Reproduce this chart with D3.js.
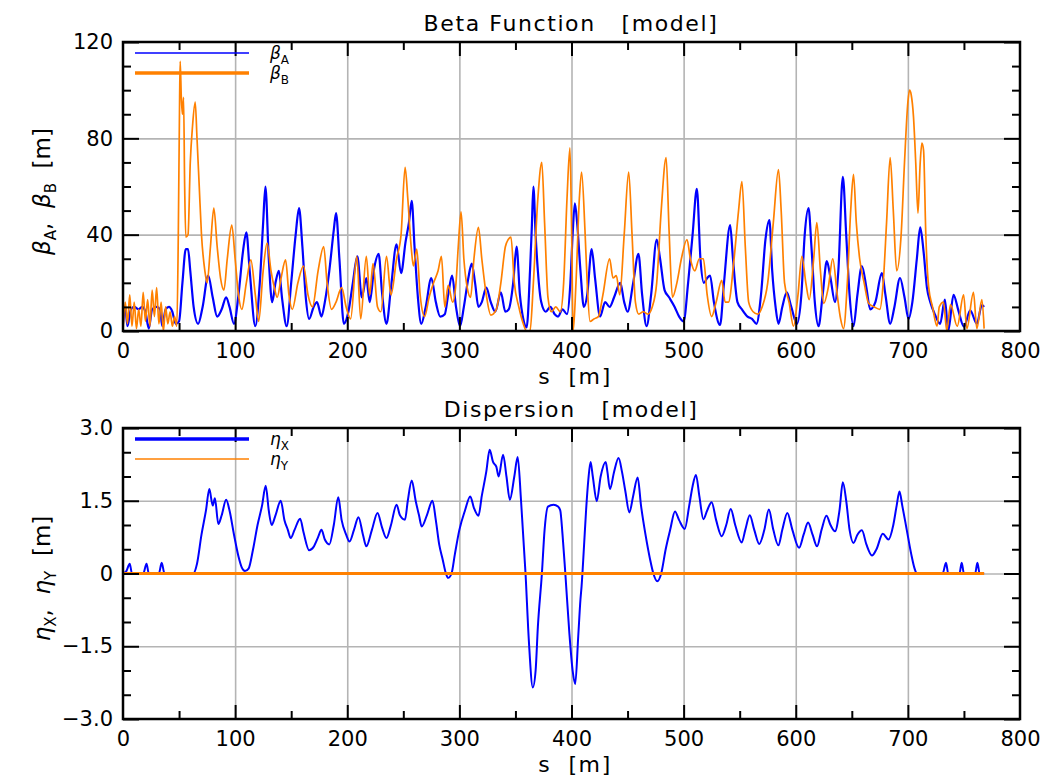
<!DOCTYPE html>
<html>
<head>
<meta charset="utf-8">
<script src="https://cdn.jsdelivr.net/npm/d3@7"></script>
<style>
body{margin:0;background:#fff;}
text{font-family:"DejaVu Sans",sans-serif;fill:#000;}
</style>
</head>
<body>
<div class="chart"></div>
<script>
// values, [s (m), value]
const betaA = [[0,3],[2,10],[4,2],[7,9],[10,10],[14,9],[17,10],[20,8],[23,1],[26,9],[30,10],[33,9],[35,2],[38,9],[41,10],[44,8],[47,3],[50,4],[53,20],[56,34],[58,34],[60,25],[63,10],[67,3],[71,10],[76,23],[80,14],[84,6],[88,9],[92,14],[95,10],[99,3],[103,15],[107,33],[110,41],[113,25],[118,2],[122,20],[125,45],[127,60],[130,30],[133,12],[136,20],[139,25],[142,13],[146,2],[150,20],[154,40],[157,51],[160,35],[163,14],[166,5],[170,10],[173,12],[177,6],[180,12],[184,25],[188,42],[190,49],[193,30],[197,3],[201,8],[205,20],[209,31],[213,14],[217,22],[220,12],[224,26],[228,32],[231,16],[235,3],[239,18],[244,36],[248,24],[252,37],[255,45],[257.5,54],[260,35],[263,14],[266,3],[270,10],[275,22],[279,12],[283,6],[287,7],[290,15],[293.5,23],[297,10],[300.6,2],[304,10],[308,22],[311,28],[314,20],[317,10],[320,12],[324,18],[328,12],[332,8],[337,16],[341,8],[344,9],[348,20],[351,35],[354,15],[357,5],[360,1.5],[363,25],[364.6,43],[366,60],[368,40],[370,25],[373,12],[377,8],[381,10],[385,7],[388,6],[392,9],[396,7],[399,20],[401,40],[403,53],[405,45],[408,25],[411,10],[414,15],[418,34],[421,22],[425.5,6],[430,12],[434,10],[438,14],[443.5,20],[447,12],[450,8],[455,20],[459.7,32],[463,15],[467,2],[471,15],[476,38],[479,30],[483,17],[487,14],[492,10],[496,6],[500,4],[504,20],[508,40],[511.8,59],[515,30],[518,20],[521,22],[523.6,23],[527,12],[532.5,2.5],[536,20],[541.5,44],[544,30],[548,12],[552,9],[557,6],[561,5],[565,3],[569,15],[573,38],[576.5,46],[579,25],[582,10],[584.6,3],[588,10],[592,16],[596,10],[601,3],[605,15],[608,40],[611.4,51],[614,35],[617,12],[620.3,2],[624,15],[627.7,29],[631,22],[635,12],[638,25],[642,64],[645,40],[648,15],[651.5,2],[655,15],[659,27],[663,18],[666.4,9],[671,12],[676.8,24],[680,15],[684.2,3],[688,10],[693,22],[697,14],[700.6,5],[704,12],[708,30],[711,43],[714,33],[717,18],[720,12],[724,7],[728.8,3],[733,13],[736,0],[740.7,15],[745,8.6],[750,1.8],[755.6,8.6],[761.5,3],[766,10.8],[768,10]];

const betaB = [[0,0],[2,12],[4,3],[6,15],[8,2],[10,12],[12,1],[14,9],[16,2],[18,16],[20,4],[22,13],[24,2],[26,17],[28,6],[30,18],[32,3],[34,12],[36,0],[38,10],[40,3],[42,8],[44,2],[46,6],[48,2],[49.3,39],[50.5,97],[51,112],[52,97],[53,90],[54,97],[55,60],[56,39],[58,40],[60,70],[62,85],[64.4,95],[66,80],[68,60],[70,40],[73,25],[75,20],[78,35],[81,51],[84,35],[87,22],[90,17],[93,30],[97,44],[100,30],[103,15],[106,9],[110,20],[114,29.5],[118,15],[121,4],[125,25],[128.5,36.5],[132,25],[135,18],[137.5,14],[141,22],[145,29.5],[148,15],[151,9],[156,20],[161,27],[165,15],[169,10],[174,25],[179,35],[182,20],[186,9],[190,12],[195,18],[199,10],[203,5],[208.5,31],[212,5],[217,31],[220,15],[223,28],[227,10],[230,8],[235,31],[239,15],[244,30],[248,40],[251.6,68],[254,55],[257,35],[259,27],[262,34],[265,15],[269,6],[273,14],[277,20],[281,25],[284,31],[287,10],[290,19],[294,12],[297,20],[299,35],[301.5,49.5],[304,30],[307,18],[310,14],[313,30],[317,43],[320,30],[324,15],[328,6.6],[333,9],[337,20],[341,35],[343.6,38],[346,39],[349,20],[353,10],[357,3],[360,0],[363,0],[366,20],[370,55],[373.5,70],[376,45],[379,14],[382,8],[386,10],[390,8],[393,20],[396,55],[398.6,76],[400,45],[401.5,0],[404,20],[407,55],[409,66],[412,42],[414,20],[416.5,4],[420,5],[424,6],[428,15],[434,30],[437,22],[440,23],[443,15],[447,40],[451,66],[454,40],[457,12],[460,7],[464,8],[468,7],[472,10],[476,20],[480,50],[484.4,72],[487,42],[490,14],[494,20],[498,30],[503,38],[506,30],[510,25],[514,30],[517.6,30],[521,15],[525,6],[529,12],[534,21],[537,12],[540,12],[545,30],[549,50],[552,62],[555,35],[558,12],[562,8],[566,7],[570,10],[575,20],[580,45],[584.6,67],[587,50],[590,20],[594,12],[598,2],[602,15],[605.5,31],[609,20],[612,13],[616,30],[618.8,45],[622,25],[625,11.5],[629,18],[633,30],[637,15],[640,5],[642.6,1],[646,20],[649,50],[651.5,65],[654,45],[657,30],[661,20],[665,11.5],[670,10],[675,9],[678,20],[681,45],[684.2,72],[687,50],[690,25],[694,40],[697,70],[700,95],[701.5,100],[703,98],[705,89],[707,70],[709,48.9],[711,70],[712.5,78],[714,75],[716,40],[718.5,18.4],[722,10],[726,2],[728,10],[731.8,12],[734.7,0],[738,11],[744,2],[749.7,15],[752.6,1],[758.5,16],[761.5,1],[766,13],[768,1]];

const etaX = [[0,0],[3,0.05],[6,0.2],[8,0],[18,0],[21,0.2],[23,0],[32,0],[34.5,0.22],[37,0],[62.7,0],[66,0.2],[70,0.8],[74,1.3],[77,1.74],[80,1.4],[82,1.55],[85,1.02],[88,1.2],[92,1.52],[95,1.3],[99,0.8],[103,0.35],[106,0.12],[108.8,0.05],[112,0.1],[116,0.5],[120,1.0],[124,1.4],[127.3,1.81],[130,1.3],[132.6,1.0],[136,1.2],[140.7,1.5],[144,1.1],[147,0.9],[149.6,0.73],[153,0.9],[158,1.13],[161,0.85],[166,0.48],[170,0.55],[174,0.75],[177,0.9],[180,0.7],[184,0.6],[188,1.0],[192,1.57],[195,1.1],[199,0.8],[202,0.66],[206,0.9],[210,1.16],[214,0.8],[217,0.56],[222,0.9],[227,1.25],[231,0.95],[235,0.73],[239,1.0],[244,1.42],[247,1.2],[251.5,1.11],[254,1.5],[257.5,1.92],[261,1.5],[264,1.2],[266.4,0.97],[271,1.2],[276,1.5],[279,1.1],[282,0.6],[285,0.3],[288,0.0],[290,-0.09],[293,0],[296,0.4],[300,0.9],[305,1.3],[309.7,1.59],[313,1.35],[317,1.19],[320,1.6],[324,2.1],[327,2.55],[330,2.3],[333,2.2],[335,2.0],[339,2.45],[342,2.0],[345,1.52],[349,2.0],[352,2.4],[355,1.5],[359,0],[362,-1.4],[365.5,-2.35],[368,-2.0],[370,-1.1],[373.6,0],[376,0.9],[379,1.38],[384,1.42],[388,1.38],[390,1.3],[392,0.8],[394.5,0],[398,-1.2],[401,-2.0],[403.3,-2.28],[406,-1.3],[408,-0.53],[409,-0.26],[411,0.5],[413,1.3],[415,1.93],[417,2.3],[419,2.0],[422.5,1.49],[426,2.0],[430.5,2.3],[432,2.1],[434.3,1.74],[438,2.1],[442,2.38],[445,2.1],[448,1.7],[451.6,1.26],[455,1.6],[459,1.98],[462,1.4],[466,0.8],[470,0.3],[473,0.0],[476.5,-0.16],[480,0.0],[484,0.5],[488,0.9],[492.3,1.28],[496,1.1],[501,0.92],[505,1.4],[508,1.8],[511,2.03],[514,1.6],[517.6,1.12],[521,1.3],[525,1.47],[529,1.1],[534,0.77],[538,1.0],[542,1.33],[546,1.0],[551.8,0.64],[555,0.9],[559,1.2],[563,0.9],[567.5,0.61],[572,0.9],[576,1.32],[580,0.9],[584.5,0.58],[588,0.9],[592.5,1.25],[597,0.9],[603,0.53],[607,0.8],[611,1.05],[615,0.8],[619,0.56],[623,0.9],[627.4,1.19],[631,1.0],[635,0.87],[639,1.3],[642,1.88],[645,1.5],[648,0.9],[651.5,0.63],[655,0.8],[659,0.89],[663,0.6],[668,0.37],[672,0.5],[677.6,0.82],[682.7,0.7],[687,1.0],[690,1.4],[692.5,1.69],[695,1.4],[699,0.9],[703,0.4],[706,0.1],[708,0],[731,0],[734,0.22],[736,0],[746,0],[748,0.22],[750,0],[760,0],[762,0.22],[764,0],[768,0]];

const etaY = [[0,0],[768,0]];

// tick labels
const sTicks = [0,100,200,300,400,500,600,700,800];
const betaTicks = [0,40,80,120];
const etaTicks = [-3,-1.5,0,1.5,3];
const etaTickLabels = ["\u22123.0","\u22121.5","0","1.5","3.0"];

function init(){

    const w = 1045, h = 780;
    const left = 123, right = 1020;
    const blue = "#0000ff", orange = "#ff8000";

    const svg = d3.select(".chart").append("svg").attr("width", w).attr("height", h);

    const x = d3.scaleLinear().domain([0,800]).range([left, right]);

    function panel(o){
        const y = d3.scaleLinear().domain(o.domain).range([o.bottom, o.top]);
        const g = svg.append("g");
        const ph = o.bottom - o.top, pw = right - left;

        // grid
        g.append("g").attr("transform", `translate(0,${o.bottom})`)
            .call(d3.axisBottom(x).tickValues(sTicks.slice(1, -1)).tickSize(-ph).tickFormat(""))
            .call(a => a.select(".domain").remove())
            .selectAll("line").attr("stroke", "#b4b4b4").attr("stroke-width", 1.6);
        g.append("g").attr("transform", `translate(${left},0)`)
            .call(d3.axisLeft(y).tickValues(o.major.slice(1, -1)).tickSize(-pw).tickFormat(""))
            .call(a => a.select(".domain").remove())
            .selectAll("line").attr("stroke", "#b4b4b4").attr("stroke-width", 1.6);

        // curves
        const clipId = "clip" + o.top;
        svg.append("clipPath").attr("id", clipId).append("rect")
            .attr("x", left).attr("y", o.top).attr("width", pw).attr("height", ph);
        const line = d3.line().x(d => x(d[0])).y(d => y(d[1])).curve(d3.curveMonotoneX);
        o.series.forEach(sr => {
            g.append("path").datum(sr.data)
                .attr("clip-path", `url(#${clipId})`)
                .attr("fill", "none")
                .attr("stroke", sr.color)
                .attr("stroke-width", sr.width)
                .attr("d", line);
        });

        // inward ticks on every side
        const sMinor = d3.range(50, 800, 100), sMajor = sTicks.slice(1, -1);
        const yAll = d3.range(o.domain[0], o.domain[1] + 1e-9, o.minorStep).map(v => +v.toFixed(3));
        const yMinor = yAll.filter(v => !o.major.some(m => Math.abs(m - v) < 1e-6));
        const tk = (axis, vals, size, tr) => g.append("g").attr("transform", tr)
            .call(axis.tickValues(vals).tickSize(-size).tickFormat(""))
            .call(a => a.select(".domain").remove())
            .selectAll("line").attr("stroke", "#000").attr("stroke-width", 2);
        tk(d3.axisBottom(x), sMinor, 8, `translate(0,${o.bottom})`);
        tk(d3.axisBottom(x), sMajor, 14, `translate(0,${o.bottom})`);
        tk(d3.axisTop(x), sMinor, 8, `translate(0,${o.top})`);
        tk(d3.axisTop(x), sMajor, 14, `translate(0,${o.top})`);
        tk(d3.axisLeft(y), yMinor, 8, `translate(${left},0)`);
        tk(d3.axisLeft(y), o.major, 16, `translate(${left},0)`);
        tk(d3.axisRight(y), yMinor, 8, `translate(${right},0)`);
        tk(d3.axisRight(y), o.major, 16, `translate(${right},0)`);

        // frame
        g.append("rect").attr("x", left).attr("y", o.top).attr("width", pw).attr("height", ph)
            .attr("fill", "none").attr("stroke", "#000").attr("stroke-width", 2.5);

        // tick labels
        g.append("g").attr("transform", `translate(0,${o.bottom})`)
            .call(d3.axisBottom(x).tickValues(sTicks).tickSize(0).tickPadding(12))
            .call(a => a.select(".domain").remove())
            .selectAll("text").attr("font-size", 21).attr("font-family", "DejaVu Sans").attr("fill", "#000");
        g.append("g").attr("transform", `translate(${left},0)`)
            .call(d3.axisLeft(y).tickValues(o.major).tickSize(0).tickPadding(10)
                .tickFormat((d, i) => o.labels[i]))
            .call(a => a.select(".domain").remove())
            .selectAll("text").attr("font-size", 21).attr("font-family", "DejaVu Sans").attr("fill", "#000");

        // title and axis label
        g.append("text").attr("x", 571).attr("y", o.top - 11).attr("text-anchor", "middle")
            .attr("font-size", 22).attr("letter-spacing", 1.6).style("white-space", "pre")
            .text(o.title);
        g.append("text").attr("x", 575).attr("y", o.bottom + 53).attr("text-anchor", "middle")
            .attr("font-size", 22).attr("letter-spacing", 1.6).style("white-space", "pre")
            .text("s  [m]");

        const yl = g.append("text").attr("text-anchor", "middle").attr("font-size", 23)
            .attr("transform", `translate(50,${(o.top + o.bottom) / 2 + 5}) rotate(-90)`)
            .style("white-space", "pre");
        o.ylabel.forEach(p => {
            const t = yl.append("tspan").text(p.t);
            if (p.greek) t.attr("font-style", "italic");
            if (p.sub) t.attr("font-size", 15).attr("dy", 6);
            if (p.up) t.attr("dy", -6);
        });

        // legend
        o.series.forEach((sr, i) => {
            const ly = o.top + 11 + i * 20;
            g.append("line").attr("x1", 135).attr("x2", 249).attr("y1", ly).attr("y2", ly)
                .attr("stroke", sr.color).attr("stroke-width", sr.legendWidth);
            const t = g.append("text").attr("x", 270).attr("y", ly + 6).attr("font-size", 17);
            t.append("tspan").attr("font-style", "italic").text(sr.sym);
            t.append("tspan").attr("font-size", 12).attr("dy", 5).text(sr.sub);
        });
    }

    panel({
        top: 42, bottom: 331, domain: [0,120], minorStep: 10,
        major: betaTicks, labels: betaTicks.map(String),
        title: "Beta Function   [model]",
        ylabel: [{t:"\u03b2", greek:true},{t:"A", sub:true},{t:",  ", up:true},{t:"\u03b2", greek:true},{t:"B", sub:true},{t:"  [m]", up:true}],
        series: [
            {data: betaA, color: blue, width: 2.2, legendWidth: 1.5, sym: "\u03b2", sub: "A"},
            {data: betaB, color: orange, width: 1.7, legendWidth: 3.5, sym: "\u03b2", sub: "B"}
        ]
    });

    panel({
        top: 428, bottom: 719, domain: [-3,3], minorStep: 0.5,
        major: etaTicks, labels: etaTickLabels,
        title: "Dispersion   [model]",
        ylabel: [{t:"\u03b7", greek:true},{t:"X", sub:true},{t:",  ", up:true},{t:"\u03b7", greek:true},{t:"Y", sub:true},{t:"  [m]", up:true}],
        series: [
            {data: etaX, color: blue, width: 2, legendWidth: 3.5, sym: "\u03b7", sub: "X"},
            {data: etaY, color: orange, width: 3.2, legendWidth: 1.5, sym: "\u03b7", sub: "Y"}
        ]
    });
}
window.onload = init;
</script>
</body>
</html>
